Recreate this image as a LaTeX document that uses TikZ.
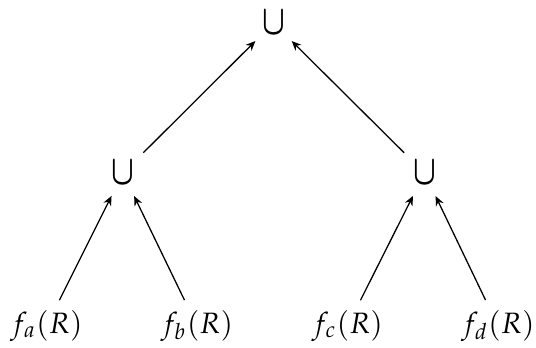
\documentclass[tikz,border=0pt]{standalone}
\usepackage{mathpazo}
\DeclareSymbolFont{cmbsym}{OMS}{cmsy}{b}{n}
\DeclareMathSymbol{\lmcup}{\mathbin}{cmbsym}{"5B}
\usetikzlibrary{arrows.meta}
\begin{document}
\begin{tikzpicture}[x=0.3125pt,y=-0.3125pt,
  lbl/.style={inner sep=0pt, font=\fontsize{9.2}{11}\selectfont},
  un/.style={inner sep=0pt, font=\fontsize{11}{12}\selectfont},
  arr/.style={-{Stealth[length=3pt,width=2.6pt]}, line width=0.4pt, shorten <=9pt, shorten >=8pt}]
\useasboundingbox (0,0) rectangle (536,347);
\node[un] (t) at (273.5,23) {\scalebox{0.85}[1.2]{$\lmcup$}};
\node[un] (l) at (123,173) {\scalebox{0.85}[1.2]{$\lmcup$}};
\node[un] (r) at (424.5,173) {\scalebox{0.85}[1.2]{$\lmcup$}};
\node[lbl] (a) at (46.5,326) {$f_a(R)$};
\node[lbl] (b) at (197,326) {$f_b(R)$};
\node[lbl] (c) at (347.5,326) {$f_c(R)$};
\node[lbl] (d) at (498,326) {$f_d(R)$};
\draw[arr] (a.center) -- (l.center);
\draw[arr] (b.center) -- (l.center);
\draw[arr] (c.center) -- (r.center);
\draw[arr] (d.center) -- (r.center);
\draw[arr] (l.center) -- (t.center);
\draw[arr] (r.center) -- (t.center);
\end{tikzpicture}
\end{document}
